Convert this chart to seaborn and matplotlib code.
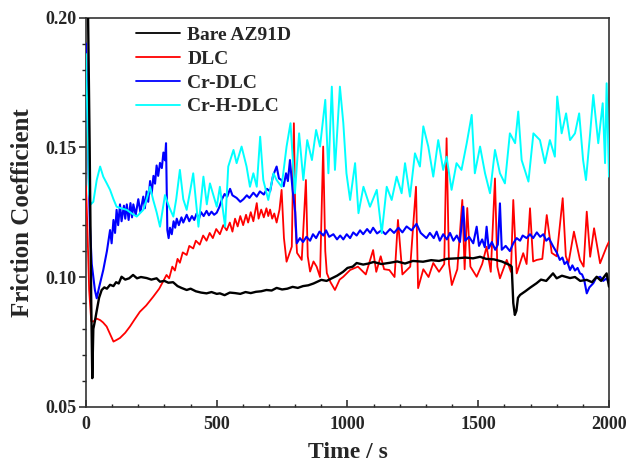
import numpy as np
import pandas as pd
import matplotlib
matplotlib.use("Agg")
import matplotlib.pyplot as plt
from matplotlib.ticker import MultipleLocator
import seaborn as sns

# ---------------- data ----------------
bare_t = [0, 8, 14, 20, 24, 28, 34, 41, 50, 60, 70, 80, 92, 105, 115, 125, 136, 150, 165, 180,
          195, 210, 232, 250, 270, 283, 300, 315, 333, 350, 365, 385, 400, 420, 440, 461, 480, 500,
          512, 530, 550, 570, 590, 610, 630, 650, 670, 690, 710, 729, 750, 770, 790, 810, 830, 850,
          870, 900, 920, 940, 960, 983, 1000, 1020, 1035, 1060, 1080, 1100, 1130, 1163, 1190, 1220,
          1250, 1289, 1320, 1350, 1380, 1418, 1450, 1480, 1507, 1530, 1560, 1590, 1621, 1628, 1634,
          1640, 1646, 1652, 1660, 1680, 1700, 1723, 1740, 1760, 1786, 1800, 1820, 1851, 1870, 1890,
          1915, 1935, 1953, 1970, 1991, 2000]
bare_v = [0.205, 0.200, 0.150, 0.090, 0.061, 0.080, 0.083, 0.087, 0.092, 0.095, 0.096, 0.0955,
          0.097, 0.0965, 0.098, 0.0975, 0.1001, 0.0990, 0.0995, 0.1008, 0.0995, 0.1000, 0.0996,
          0.0990, 0.0995, 0.0982, 0.0985, 0.0978, 0.0980, 0.0965, 0.0958, 0.0950, 0.0955, 0.0945,
          0.0940, 0.0937, 0.0942, 0.0935, 0.0937, 0.0930, 0.0940, 0.0938, 0.0935, 0.0942, 0.0938,
          0.0943, 0.0945, 0.0950, 0.0948, 0.0958, 0.0952, 0.0955, 0.0962, 0.0958, 0.0965, 0.0968,
          0.0975, 0.0989, 0.0985, 0.0995, 0.1005, 0.1020, 0.1035, 0.1040, 0.1054, 0.1048, 0.1052,
          0.1058, 0.1050, 0.1055, 0.1060, 0.1052, 0.1062, 0.1059, 0.1065, 0.1062, 0.1070, 0.1072,
          0.1075, 0.1072, 0.1078, 0.1070, 0.1068, 0.1060, 0.1046, 0.1040, 0.0900, 0.0854, 0.0870,
          0.0920, 0.0931, 0.0945, 0.0960, 0.0976, 0.0990, 0.0985, 0.1014, 0.0995, 0.1005, 0.0996,
          0.1000, 0.0985, 0.0989, 0.0980, 0.1001, 0.0985, 0.1014, 0.0963]

dlc_t = [0, 5, 12, 20, 28, 40, 54, 65, 79, 92, 105, 118, 130, 150, 168, 185, 206, 230, 257, 280,
         308, 318, 330, 340, 350, 359, 370, 385, 395, 410, 420, 435, 448, 461, 473, 485, 498, 512,
         525, 538, 550, 560, 570, 580, 590, 601, 612, 620, 630, 640, 653, 660, 670, 680, 690, 697,
         704, 712, 720, 729, 740, 748, 757, 767, 787, 795, 801, 807, 825, 841, 848, 857, 870, 882,
         895, 907, 915, 921, 935, 952, 970, 984, 1010, 1040, 1070, 1098, 1110, 1127, 1140, 1160,
         1180, 1193, 1210, 1240, 1262, 1270, 1290, 1310, 1328, 1350, 1370, 1379, 1388, 1399, 1420,
         1439, 1448, 1458, 1470, 1494, 1515, 1532, 1548, 1564, 1573, 1583, 1609, 1625, 1634, 1647,
         1672, 1685, 1698, 1710, 1724, 1745, 1762, 1781, 1800, 1823, 1835, 1845, 1866, 1889, 1903,
         1915, 1928, 1943, 1966, 1991, 2000]
dlc_v = [0.135, 0.120, 0.095, 0.083, 0.0828, 0.0840, 0.0834, 0.0825, 0.0809, 0.0780, 0.0751, 0.0758,
         0.0765, 0.0785, 0.0809, 0.0835, 0.0866, 0.0890, 0.0924, 0.0955,
         0.1008, 0.0995, 0.1040, 0.1025, 0.1070, 0.1055, 0.1095, 0.1085, 0.1120, 0.1110, 0.1140,
         0.1125, 0.1160, 0.1140, 0.1170, 0.1150, 0.1185, 0.1165, 0.1200, 0.1180, 0.1210, 0.1175,
         0.1225, 0.1195, 0.1235, 0.1200, 0.1240, 0.1210, 0.1250, 0.1215, 0.1285, 0.1225, 0.1260,
         0.1230, 0.1265, 0.1235, 0.1260, 0.1225, 0.1245, 0.1210, 0.1260, 0.1336, 0.1150, 0.1059,
         0.1117, 0.1593, 0.1200, 0.1093, 0.1066, 0.1374, 0.1080, 0.1021, 0.1060, 0.1040, 0.1000,
         0.1503, 0.1100, 0.1015, 0.0980, 0.0950, 0.0990, 0.1001, 0.1027, 0.1040, 0.1010, 0.1104,
         0.1020, 0.1080, 0.1030, 0.1027, 0.1000, 0.1220, 0.1010, 0.1040, 0.1348, 0.0957, 0.1030,
         0.1000, 0.1054, 0.1020, 0.1050, 0.1535, 0.1050, 0.0969, 0.1030, 0.1297, 0.1030, 0.1266,
         0.1040, 0.1001, 0.1050, 0.1117, 0.1020, 0.1380, 0.1040, 0.0995, 0.1066, 0.1020, 0.1297,
         0.1014, 0.1092, 0.1050, 0.1265, 0.1060, 0.1066, 0.1070, 0.1239, 0.1093, 0.1080, 0.1304,
         0.1080, 0.1053, 0.1175, 0.1066, 0.1040, 0.1252, 0.1078, 0.1188, 0.1053, 0.1117, 0.1136]

crdlc_t = [0, 5, 10, 15, 22, 28, 34, 41, 50, 66, 80, 92, 98, 105, 111, 117, 123, 130, 136, 145,
           150, 156, 163, 170, 176, 181, 190, 200, 208, 219, 225, 232, 238, 245, 251, 258, 264, 270,
           276, 283, 290, 296, 302, 306, 311, 316, 321, 328, 335, 341, 347, 355, 365, 372, 385, 395,
           405, 414, 423, 432, 440, 450, 461, 470, 480, 490, 500, 510, 520, 530, 540, 551, 560, 576,
           590, 602, 615, 625, 640, 653, 665, 680, 692, 704, 715, 729, 738, 748, 756, 765, 772, 780,
           790, 800, 806, 818, 830, 843, 857, 868, 880, 893, 908, 918, 930, 946, 960, 972, 984, 997,
           1010, 1022, 1035, 1048, 1060, 1075, 1087, 1098, 1113, 1130, 1145, 1163, 1178, 1195, 1210,
           1226, 1245, 1264, 1280, 1302, 1315, 1330, 1341, 1353, 1366, 1380, 1392, 1405, 1418, 1430,
           1443, 1450, 1465, 1481, 1494, 1503, 1515, 1525, 1532, 1540, 1552, 1565, 1575, 1583, 1590,
           1605, 1621, 1634, 1647, 1660, 1670, 1685, 1698, 1710, 1724, 1737, 1749, 1760, 1770, 1787,
           1800, 1812, 1822, 1830, 1840, 1851, 1860, 1870, 1880, 1889, 1897, 1905, 1915, 1925, 1940,
           1950, 1966, 1978, 1991, 2000]
crdlc_v = [0.190, 0.170, 0.140, 0.120, 0.105, 0.100, 0.095, 0.0918, 0.0960, 0.1027, 0.1100,
           0.1181, 0.1130, 0.1220, 0.1170, 0.1259, 0.1200, 0.1280, 0.1215, 0.1275, 0.1225, 0.1280,
           0.1220, 0.1285, 0.1230, 0.1280, 0.1240, 0.1300, 0.1250, 0.1310, 0.1265, 0.1330, 0.1290,
           0.1370, 0.1320, 0.1390, 0.1360, 0.1430, 0.1390, 0.1440, 0.1420, 0.1480, 0.1450, 0.1516,
           0.1181, 0.1150, 0.1190, 0.1165, 0.1215, 0.1190, 0.1225, 0.1200, 0.1230, 0.1210, 0.1240,
           0.1215, 0.1235, 0.1220, 0.1245, 0.1225, 0.1250, 0.1235, 0.1255, 0.1238, 0.1252, 0.1240,
           0.1248, 0.1270, 0.1300, 0.1320, 0.1310, 0.1340, 0.1315, 0.1305, 0.1290, 0.1300, 0.1315,
           0.1305, 0.1325, 0.1310, 0.1330, 0.1318, 0.1340, 0.1330, 0.1390, 0.1426, 0.1380, 0.1374,
           0.1350, 0.1400, 0.1370, 0.1451, 0.1336, 0.1250, 0.1130, 0.1150, 0.1135, 0.1155, 0.1140,
           0.1165, 0.1150, 0.1175, 0.1160, 0.1180, 0.1155, 0.1165, 0.1145, 0.1160, 0.1145, 0.1165,
           0.1150, 0.1172, 0.1160, 0.1180, 0.1165, 0.1185, 0.1170, 0.1190, 0.1168, 0.1180, 0.1165,
           0.1185, 0.1170, 0.1190, 0.1172, 0.1195, 0.1180, 0.1205, 0.1170, 0.1150, 0.1170, 0.1150,
           0.1175, 0.1140, 0.1165, 0.1145, 0.1170, 0.1140, 0.1160, 0.1135, 0.1271, 0.1140, 0.1155,
           0.1130, 0.1194, 0.1120, 0.1145, 0.1115, 0.1194, 0.1110, 0.1135, 0.1105, 0.1125, 0.1284,
           0.1105, 0.1120, 0.1100, 0.1130, 0.1150, 0.1140, 0.1160, 0.1150, 0.1165, 0.1150, 0.1172,
           0.1155, 0.1165, 0.1140, 0.1150, 0.1117, 0.1095, 0.1066, 0.1075, 0.1050, 0.1060, 0.1027,
           0.1045, 0.1025, 0.1035, 0.1014, 0.1010, 0.0990, 0.0937, 0.0960, 0.0976, 0.0995, 0.1001,
           0.0985, 0.0995, 0.0976]

crh_t = [0, 6, 12, 18, 28, 41, 54, 66, 80, 92, 105, 117, 135, 156, 175, 194, 219, 232, 245, 257,
         270, 283, 302, 318, 334, 345, 359, 372, 385, 398, 410, 430, 449, 462, 474, 500, 512, 532,
         544, 564, 576, 595, 614, 627, 640, 653, 666, 678, 697, 717, 729, 748, 767, 782, 799, 815,
         831, 846, 864, 880, 895, 915, 927, 940, 952, 971, 984, 996, 1010, 1029, 1042, 1061, 1086,
         1112, 1131, 1150, 1169, 1188, 1207, 1220, 1239, 1258, 1277, 1290, 1309, 1328, 1347, 1366,
         1379, 1398, 1417, 1436, 1456, 1475, 1487, 1507, 1526, 1545, 1564, 1583, 1602, 1621, 1641,
         1653, 1666, 1692, 1711, 1736, 1755, 1774, 1793, 1802, 1819, 1836, 1851, 1870, 1886, 1901,
         1912, 1928, 1940, 1959, 1976, 1985, 1991, 2000]
crh_v = [0.186, 0.160, 0.132, 0.128, 0.129, 0.1374, 0.1426, 0.1387, 0.1360, 0.1336, 0.1300, 0.1271,
         0.1265, 0.1259, 0.1245, 0.1233, 0.1259, 0.1300, 0.1348, 0.1297, 0.1250, 0.1194, 0.1316,
         0.1270, 0.1233, 0.1300, 0.1413, 0.1300, 0.1259, 0.1330, 0.1400, 0.1194, 0.1387, 0.1280,
         0.1361, 0.1271, 0.1348, 0.1194, 0.1426, 0.1490, 0.1439, 0.1503, 0.1426, 0.1348, 0.1400,
         0.1348, 0.1541, 0.1374, 0.1297, 0.1400, 0.1374, 0.1348, 0.1503, 0.1593, 0.1323, 0.1554,
         0.1374, 0.1528, 0.1451, 0.1567, 0.1503, 0.1683, 0.1400, 0.1734, 0.1413, 0.1734, 0.1594,
         0.1400, 0.1297, 0.1439, 0.1246, 0.1348, 0.1271, 0.1336, 0.1169, 0.1348, 0.1297, 0.1387,
         0.1323, 0.1439, 0.1310, 0.1477, 0.1426, 0.1581, 0.1503, 0.1387, 0.1528, 0.1413, 0.1464,
         0.1336, 0.1439, 0.1413, 0.1516, 0.1625, 0.1400, 0.1503, 0.1400, 0.1323, 0.1490, 0.1400,
         0.1361, 0.1554, 0.1516, 0.1638, 0.1451, 0.1368, 0.1554, 0.1528, 0.1439, 0.1528, 0.1464,
         0.1696, 0.1554, 0.1631, 0.1528, 0.1554, 0.1631, 0.1451, 0.1374, 0.1554, 0.1702, 0.1516,
         0.1670, 0.1439, 0.1747, 0.1387]

labels = ["Bare AZ91D", "DLC", "Cr-DLC", "Cr-H-DLC"]
colors = ["#000000", "#ff0000", "#0000ff", "#00ffff"]
xticks = [0, 500, 1000, 1500, 2000]
yticks = [0.05, 0.10, 0.15, 0.20]

# ---------------- plotting ----------------
sns.set_theme(style="white")
plt.rcParams["font.family"] = ["Liberation Serif", "DejaVu Serif"]
plt.rcParams["font.weight"] = "bold"

fig = plt.figure(figsize=(6.31, 4.65), dpi=100)
ax = fig.add_axes([0.1363, 0.1254, 0.8288, 0.8366])

series = [(bare_t, bare_v), (dlc_t, dlc_v), (crdlc_t, crdlc_v), (crh_t, crh_v)]
zorders = [6, 3, 4, 5]
widths = [1.7, 1.3, 1.5, 1.4]
for (t, v), lab, col, z, lw in zip(series, labels, colors, zorders, widths):
    df = pd.DataFrame({"t": t, "v": v})
    sns.lineplot(data=df, x="t", y="v", ax=ax, color=col, linewidth=lw,
                 label=lab, sort=False, estimator=None, zorder=z)

ax.set_xlim(0, 2000)
ax.set_ylim(0.05, 0.20)
ax.set_xticks(xticks)
ax.set_yticks(yticks)
ax.set_xticklabels([str(x) for x in xticks])
ax.set_yticklabels([f"{y:.2f}" for y in yticks])
ax.xaxis.set_minor_locator(MultipleLocator(100))
ax.yaxis.set_minor_locator(MultipleLocator(0.01))
ax.tick_params(axis="x", which="major", direction="in", length=5, width=1.1,
               labelsize=13, pad=7, bottom=True, top=False, color="#222222")
ax.tick_params(axis="x", which="minor", direction="in", length=2.5, width=1.0,
               bottom=True, top=False, color="#222222")
ax.tick_params(axis="y", which="major", direction="out", length=5, width=1.1,
               labelsize=13, pad=2, left=True, right=False, color="#222222")
ax.tick_params(axis="y", which="minor", direction="out", length=3, width=1.0,
               left=True, right=False, color="#222222")
for lbl in ax.get_xticklabels() + ax.get_yticklabels():
    lbl.set_fontweight("bold")

for sp in ax.spines.values():
    sp.set_visible(True)
    sp.set_color("#333333")
    sp.set_linewidth(1.2)

ax.set_xlabel("Time / s", fontsize=17, fontweight="bold", labelpad=6)
ax.set_ylabel("Friction Coefficient", fontsize=18, fontweight="bold", labelpad=8)

handles, labs = ax.get_legend_handles_labels()
order = [labs.index(l) for l in labels]
leg = ax.legend([handles[i] for i in order], [labs[i] for i in order],
                loc="upper left", bbox_to_anchor=(0.095, 0.978), frameon=False,
                fontsize=14, handlelength=2.3, handletextpad=0.35, labelspacing=0.32,
                borderpad=0, borderaxespad=0)
for txt in leg.get_texts():
    txt.set_fontweight("bold")
for ln in leg.get_lines():
    ln.set_linewidth(1.3)

fig.savefig("out.png", dpi=100)
